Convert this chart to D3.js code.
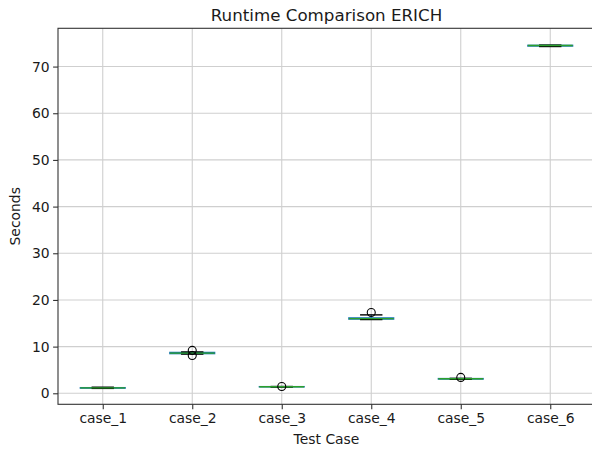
<!DOCTYPE html>
<html lang="en">
<head>
  <meta charset="UTF-8">
  <title>Runtime Comparison ERICH</title>
  <script src="https://d3js.org/d3.v7.min.js"></script>
  <style>
    body { margin: 0; background: #fff; }
    text { font-family: "DejaVu Sans", sans-serif; fill: #1a1a1a; }
  </style>
</head>
<body>
<div id="chart"></div>
<script>
  // box statistics (seconds)
  const cases = ["case_1", "case_2", "case_3", "case_4", "case_5", "case_6"];
  const whiskerLow  = [1.05, 8.40, 1.35, 15.80, 3.00, 74.30];
  const q1          = [1.10, 8.50, 1.38, 15.90, 3.05, 74.40];
  const median      = [1.15, 8.60, 1.40, 16.00, 3.10, 74.50];
  const q3          = [1.20, 8.75, 1.42, 16.15, 3.15, 74.55];
  const whiskerHigh = [1.30, 8.85, 1.45, 16.80, 3.20, 74.60];
  const fliers      = [[], [9.2, 8.1], [1.45], [17.3], [3.4], []];
  const yTicks = [0, 10, 20, 30, 40, 50, 60, 70];

  const width = 592, height = 449;
  const margin = {top: 28.3, right: -3, bottom: 44.7, left: 58};
  const innerW = width - margin.left - margin.right;
  const innerH = height - margin.top - margin.bottom;

  const svg = d3.select("#chart").append("svg")
      .attr("width", width)
      .attr("height", height);

  const x = d3.scaleLinear().domain([0.5, cases.length + 0.5]).range([0, innerW]);
  const y = d3.scaleLinear().domain([-2.36, 78.2]).range([innerH, 0]);

  const g = svg.append("g").attr("transform", `translate(${margin.left},${margin.top})`);

  // grid
  g.append("g").selectAll("line").data(yTicks).enter().append("line")
      .attr("x1", 0).attr("x2", innerW)
      .attr("y1", d => y(d)).attr("y2", d => y(d))
      .attr("stroke", "#cfcfcf").attr("stroke-width", 1.1);
  g.append("g").selectAll("line").data(cases).enter().append("line")
      .attr("x1", (d, i) => x(i + 1)).attr("x2", (d, i) => x(i + 1))
      .attr("y1", 0).attr("y2", innerH)
      .attr("stroke", "#cfcfcf").attr("stroke-width", 1.1);

  // boxes
  const stats = cases.map((c, i) => ({
    name: c, pos: i + 1, lo: whiskerLow[i], q1: q1[i], med: median[i],
    q3: q3[i], hi: whiskerHigh[i], fl: fliers[i]
  }));
  const boxW = x(1.25) - x(1);   // half box width
  const capW = x(1.125) - x(1);  // half cap width

  const box = g.selectAll(".box").data(stats).enter().append("g").attr("class", "box");

  box.append("line")
      .attr("x1", d => x(d.pos)).attr("x2", d => x(d.pos))
      .attr("y1", d => y(d.lo)).attr("y2", d => y(d.q1))
      .attr("stroke", "#1f77b4").attr("stroke-width", 1.4);
  box.append("line")
      .attr("x1", d => x(d.pos)).attr("x2", d => x(d.pos))
      .attr("y1", d => y(d.q3)).attr("y2", d => y(d.hi))
      .attr("stroke", "#1f77b4").attr("stroke-width", 1.4);
  box.append("rect")
      .attr("x", d => x(d.pos) - boxW).attr("width", boxW * 2)
      .attr("y", d => y(d.q3)).attr("height", d => y(d.q1) - y(d.q3))
      .attr("fill", "none").attr("stroke", "#1f77b4").attr("stroke-width", 1.4);
  box.selectAll(".cap").data(d => [d, d]).enter().append("line")
      .attr("x1", d => x(d.pos) - capW).attr("x2", d => x(d.pos) + capW)
      .attr("y1", (d, i) => y(i ? d.hi : d.lo)).attr("y2", (d, i) => y(i ? d.hi : d.lo))
      .attr("stroke", "#000").attr("stroke-width", 1.4);
  box.append("line")
      .attr("x1", d => x(d.pos) - boxW).attr("x2", d => x(d.pos) + boxW)
      .attr("y1", d => y(d.med)).attr("y2", d => y(d.med))
      .attr("stroke", "#2ca02c").attr("stroke-width", 1.4);
  box.selectAll("circle").data(d => d.fl.map(v => ({pos: d.pos, v}))).enter().append("circle")
      .attr("cx", d => x(d.pos)).attr("cy", d => y(d.v)).attr("r", 4)
      .attr("fill", "none").attr("stroke", "#000").attr("stroke-width", 1.1);

  // axes
  const yAxis = g.append("g")
      .call(d3.axisLeft(y).tickValues(yTicks).tickSize(4.9).tickPadding(3.5));
  const xAxis = g.append("g").attr("transform", `translate(0,${innerH})`)
      .call(d3.axisBottom(x).tickValues(d3.range(1, cases.length + 1))
        .tickFormat(d => cases[d - 1]).tickSize(4.9).tickPadding(3.5));
  [xAxis, yAxis].forEach(a => {
    a.select(".domain").remove();
    a.selectAll("line").attr("stroke", "#333").attr("stroke-width", 1.1);
    a.selectAll("text").style("font-size", "13.9px").attr("fill", "#1a1a1a");
  });

  g.append("rect")
      .attr("width", innerW).attr("height", innerH)
      .attr("fill", "none").attr("stroke", "#333").attr("stroke-width", 1.1);

  // labels
  svg.append("text")
      .attr("x", margin.left + innerW / 2).attr("y", 20.5)
      .attr("text-anchor", "middle").style("font-size", "16.7px")
      .text("Runtime Comparison ERICH");
  svg.append("text")
      .attr("x", margin.left + innerW / 2).attr("y", 444)
      .attr("text-anchor", "middle").style("font-size", "13.9px")
      .text("Test Case");
  svg.append("text")
      .attr("transform", `translate(20,${margin.top + innerH / 2}) rotate(-90)`)
      .attr("text-anchor", "middle").style("font-size", "13.9px")
      .text("Seconds");
</script>
</body>
</html>
